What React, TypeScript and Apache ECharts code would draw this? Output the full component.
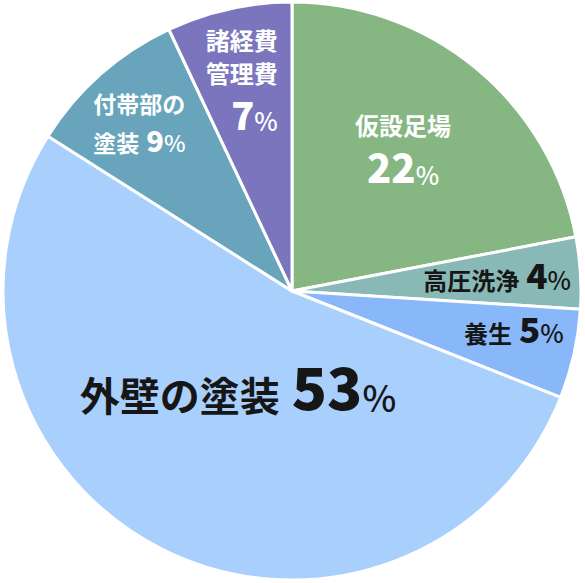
import { useEffect, useRef } from 'react'
import * as echarts from 'echarts'

const categories = ['仮設足場', '高圧洗浄', '養生', '外壁の塗装', '付帯部の塗装', '諸経費管理費']
const values = [22, 4, 5, 53, 9, 7]
const sliceColors = ['#86b783', '#88b9b7', '#89b8fa', '#a9cffc', '#68a4bb', '#7b75be']

const FONT = '"Noto Sans CJK JP", "Noto Sans", sans-serif'
const WHITE = '#ffffff'
const DARK = '#161616'

// label offsets from ECharts' inside position, per slice
const labelShift: [number, number][] = [
  [17, -31],
  [58, -8],
  [78, 4],
  [13, -37],
  [-55, -66],
  [-18, -72],
]

function tag(size: number, color: string, weight: number | string, extra: Record<string, unknown> = {}) {
  return {
    fontSize: size,
    lineHeight: size,
    color,
    fontWeight: weight,
    fontFamily: FONT,
    verticalAlign: 'bottom',
    ...extra,
  }
}

function labelFor(i: number) {
  const name = categories[i]
  const v = values[i]
  switch (i) {
    case 0:
      return {
        formatter: `{a|${name}}\n{b|${v}}{c|%}`,
        rich: {
          a: tag(24, WHITE, 'bold', { lineHeight: 30 }),
          b: tag(40, WHITE, 900, { lineHeight: 50 }),
          c: tag(25, WHITE, 500),
        },
      }
    case 1:
    case 2:
      return {
        formatter: `{a|${name}}{b|${v}}{c|%}`,
        rich: {
          a: tag(24, DARK, 'bold'),
          b: tag(35, DARK, 900, { padding: [0, 0, 0, 7] }),
          c: tag(25, DARK, 500),
        },
      }
    case 3:
      return {
        formatter: `{a|${name}}{b|${v}}{c|%}`,
        rich: {
          a: tag(40, DARK, 'bold'),
          b: tag(58, DARK, 900, { padding: [0, 0, 0, 12] }),
          c: tag(36, DARK, 500),
        },
      }
    case 4:
      return {
        formatter: `{a|${name.slice(0, 4)}}\n{a|${name.slice(4)}}{b|${v}}{c|%}`,
        rich: {
          a: tag(23, WHITE, 'bold', { lineHeight: 39, align: 'left' }),
          b: tag(29, WHITE, 900, { padding: [0, 0, 0, 7], align: 'left' }),
          c: tag(23, WHITE, 500, { align: 'left' }),
        },
      }
    default:
      return {
        formatter: `{a|${name.slice(0, 3)}}\n{a|${name.slice(3)}}\n{b|${v}}{c|%}`,
        rich: {
          a: tag(24, WHITE, 'bold', { lineHeight: 33, align: 'right' }),
          b: tag(38, WHITE, 900, { lineHeight: 48, align: 'right' }),
          c: tag(25, WHITE, 500, { align: 'right' }),
        },
      }
  }
}

export default function App() {
  const ref = useRef<HTMLDivElement | null>(null)

  useEffect(() => {
    if (!ref.current) return
    const chart = echarts.init(ref.current, undefined, { renderer: 'svg' })
    chart.setOption({
      animation: false,
      backgroundColor: '#ffffff',
      series: [
        {
          type: 'pie',
          center: [292, 291],
          radius: [0, 289],
          startAngle: 90,
          clockwise: true,
          silent: true,
          itemStyle: { borderColor: '#ffffff', borderWidth: 3 },
          label: { show: true, position: 'inside' },
          labelLine: { show: false },
          labelLayout: (params: { dataIndex: number }) => ({
            dx: labelShift[params.dataIndex][0],
            dy: labelShift[params.dataIndex][1],
          }),
          data: categories.map((name, i) => ({
            name,
            value: values[i],
            itemStyle: { color: sliceColors[i] },
            label: labelFor(i),
          })),
        },
      ],
    })
    return () => chart.dispose()
  }, [])

  return (
    <div
      ref={ref}
      style={{ position: 'fixed', left: 0, top: 0, width: 585, height: 583 }}
    />
  )
}
